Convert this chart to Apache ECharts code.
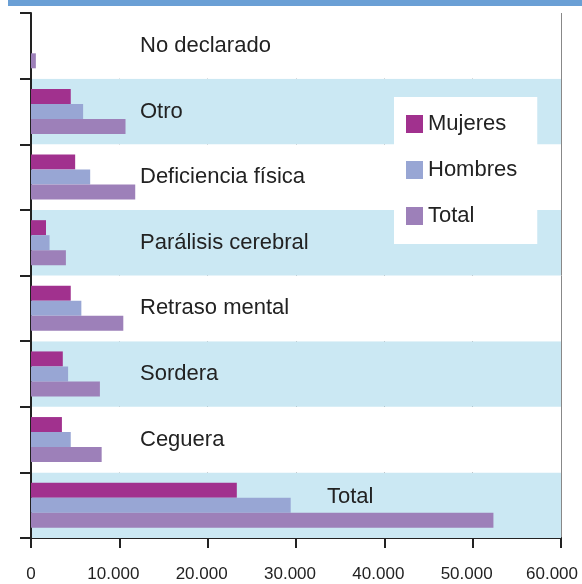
<!DOCTYPE html>
<html>
<head>
<meta charset="utf-8">
<script src="https://cdn.jsdelivr.net/npm/echarts@6/dist/echarts.min.js"></script>
<style>
  html, body { margin: 0; padding: 0; background: #fff; }
  #chart { width: 582px; height: 584px; }
</style>
</head>
<body>
<div id="chart"></div>
<script>
// categories from bottom to top
const categories = ['Total', 'Ceguera', 'Sordera', 'Retraso mental', 'Parálisis cerebral', 'Deficiencia física', 'Otro', 'No declarado']
const mujeres = [23300, 3500, 3600, 4500, 1700, 5000, 4500, 0]
const hombres = [29400, 4500, 4200, 5700, 2100, 6700, 5900, 0]
const total = [52350, 8000, 7800, 10450, 3950, 11800, 10700, 550]
const seriesNames = ['Mujeres', 'Hombres', 'Total']

const font = "'Liberation Sans', Arial, sans-serif"
const colors = ['#a1318e', '#98a6d4', '#9d80b9']

const chart = echarts.init(document.getElementById('chart'))

// 10000 -> 10.000, labels sit a bit left of their ticks
const fmt = v => {
  const s = String(v).replace(/\B(?=(\d{3})+(?!\d))/g, '.')
  if (v === 0) return s
  return v === 60000 ? '{e|' + s + '}' : '{n|' + s + '}'
}

const option = {
  animation: false,
  color: colors,
  textStyle: { fontFamily: font },
  graphic: [
    // blue strip on top
    { type: 'rect', left: 8, top: 0, shape: { width: 574, height: 6 }, style: { fill: '#6a9fd5' } }
  ],
  grid: { left: 31, right: 21, top: 13, bottom: 46, outerBoundsMode: 'none' },
  legend: {
    orient: 'vertical',
    left: 394,
    top: 97,
    backgroundColor: '#fff',
    padding: [16, 20, 17, 12],
    itemGap: 24,
    itemWidth: 17,
    itemHeight: 18,
    icon: 'rect',
    textStyle: { fontSize: 22, color: '#222', fontFamily: font },
    data: seriesNames
  },
  xAxis: {
    type: 'value',
    min: 0,
    max: 60000,
    interval: 10000,
    axisLine: { show: true, lineStyle: { color: '#222', width: 2 } },
    axisTick: { show: true, length: 10, lineStyle: { color: '#222', width: 2 } },
    axisLabel: {
      fontSize: 17, color: '#222', margin: 28, formatter: fmt, fontFamily: font,
      rich: {
        n: { fontSize: 17, color: '#222', fontFamily: font, padding: [0, 12, 0, 0] },
        e: { fontSize: 17, color: '#222', fontFamily: font, padding: [0, 18, 0, 0] }
      }
    },
    splitLine: { show: true, lineStyle: { color: ['#555', '#777', '#555', '#444', '#333', '#333', '#888'], width: 1 } }
  },
  yAxis: {
    type: 'category',
    data: categories,
    axisLine: { show: true, lineStyle: { color: '#222', width: 2 } },
    axisTick: { show: true, length: 11, lineStyle: { color: '#222', width: 2 } },
    axisLabel: {
      inside: true,
      margin: 109,
      fontSize: 22,
      color: '#222',
      fontFamily: font,
      formatter: v => v === 'Total' ? '{t|' + v + '}' : v,
      rich: { t: { fontSize: 22, color: '#222', fontFamily: font, padding: [0, 0, 16, 187] } }
    },
    splitArea: { show: true, areaStyle: { color: ['#cbe8f3', '#ffffff'] } },
    z: 1
  },
  series: [
    { name: 'Mujeres', type: 'bar', data: mujeres, barWidth: 15, barGap: '0%' },
    { name: 'Hombres', type: 'bar', data: hombres, barWidth: 15, barGap: '0%' },
    { name: 'Total', type: 'bar', data: total, barWidth: 15, barGap: '0%' }
  ]
}

chart.setOption(option)
</script>
</body>
</html>
